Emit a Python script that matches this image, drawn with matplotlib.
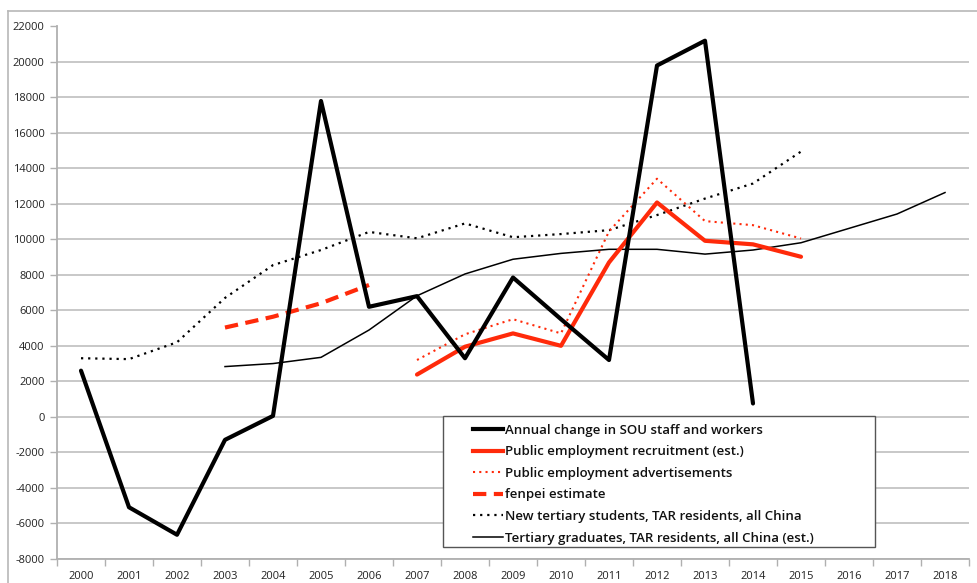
import matplotlib
matplotlib.use("Agg")
import matplotlib.pyplot as plt
from matplotlib.lines import Line2D
from matplotlib.patches import Rectangle
import numpy as np

years = [str(y) for y in range(2000, 2019)]

sou_change = [2600, -5100, -6650, -1300, 50, 17800, 6200, 6800, 3300, 7850,
              5500, 3200, 19800, 21200, 750, None, None, None, None]
recruitment = [None]*7 + [2380, 3950, 4700, 4000, 8700, 12080, 9920, 9720, 9020, None, None, None]
advertisements = [None]*7 + [3200, 4650, 5500, 4700, 10450, 13420, 11030, 10800, 10050, None, None, None]
fenpei = [None]*3 + [5030, 5640, 6400, 7430] + [None]*12
new_students = [3300, 3250, 4200, 6700, 8550, 9400, 10420, 10060, 10900, 10120,
                10300, 10520, 11370, 12300, 13150, 14950, None, None, None]
graduates = [None]*3 + [2830, 3000, 3350, 4890, 6820, 8050, 8880, 9210, 9440,
                        9440, 9170, 9400, 9810, 10620, 11430, 12640]

labels = ["Annual change in SOU staff and workers",
          "Public employment recruitment (est.)",
          "Public employment advertisements",
          "fenpei estimate",
          "New tertiary students, TAR residents, all China",
          "Tertiary graduates, TAR residents, all China (est.)"]

yticks = list(range(-8000, 22001, 2000))

RED = "#ff2a0a"

def arr(v):
    return np.array([np.nan if x is None else x for x in v], dtype=float)

plt.rcParams['font.family'] = ['Open Sans', 'DejaVu Sans']

fig = plt.figure(figsize=(9.77, 5.83), dpi=100)
ax = fig.add_axes([57/977, 1-558.7/583, (969-57)/977, (558.7-26.5)/583])

x = np.arange(len(years))
ax.plot(x, arr(graduates), color="black", lw=1.1, solid_joinstyle="round")
ax.plot(x, arr(new_students), color="black", lw=1.6, linestyle=(0, (1, 2.2)))
ax.plot(x, arr(fenpei), color=RED, lw=3.0, linestyle=(0, (3.2, 1.8)))
ax.plot(x, arr(advertisements), color=RED, lw=1.5, linestyle=(0, (1, 2.0)))
ax.plot(x, arr(recruitment), color=RED, lw=3.0, solid_capstyle="round")
ax.plot(x, arr(sou_change), color="black", lw=3.0, solid_capstyle="round")

ax.set_xlim(-0.5, len(years)-0.5)
ax.set_ylim(-8000, 22000)
ax.set_yticks(yticks)
ax.set_yticklabels([str(v) for v in yticks])
ax.set_xticks(x)
ax.set_xticklabels(years)
ax.set_xticks(np.arange(-0.5, len(years), 1), minor=True)
ax.tick_params(axis='x', which='major', length=0, pad=9, labelsize=8, labelcolor="#222222")
ax.tick_params(axis='x', which='minor', length=5, color="#b0b0b0", width=1)
ax.tick_params(axis='y', length=5, color="#b0b0b0", width=1, labelsize=8,
               labelcolor="#222222", pad=4)
ax.yaxis.grid(True, color="#c4c4c4", lw=1.3)
ax.set_axisbelow(True)
for s in ["top", "right"]:
    ax.spines[s].set_visible(False)
for s in ["left", "bottom"]:
    ax.spines[s].set_color("#b0b0b0")
    ax.spines[s].set_linewidth(1.3)

# figure border (Excel chart area)
fig.add_artist(Line2D([8/977, 8/977], [0, 1-10.5/583], transform=fig.transFigure,
                      color="#b8b8b8", lw=1.2))
fig.add_artist(Line2D([8/977, 1], [1-10.5/583, 1-10.5/583], transform=fig.transFigure,
                      color="#b8b8b8", lw=1.2))

handles = [
    Line2D([], [], color="black", lw=3.0),
    Line2D([], [], color=RED, lw=3.0),
    Line2D([], [], color=RED, lw=1.5, linestyle=(0, (1, 2.0))),
    Line2D([], [], color=RED, lw=3.0, linestyle=(0, (3.2, 1.8))),
    Line2D([], [], color="black", lw=1.6, linestyle=(0, (1, 2.2))),
    Line2D([], [], color="black", lw=1.1),
]
fig.add_artist(Rectangle((443/977, 1-547/583), (875-443)/977, (547-416)/583,
                         transform=fig.transFigure, facecolor="white",
                         edgecolor="#555555", lw=1.0, zorder=5))
leg = fig.legend(handles, labels, loc="upper left",
                 bbox_to_anchor=(470/977, 1-421/583), frameon=False,
                 fontsize=9.5, handlelength=2.3, handletextpad=0.15,
                 labelspacing=0.65, borderaxespad=0, borderpad=0.2)
leg.set_zorder(6)
for t in leg.get_texts():
    t.set_fontweight("semibold")
    t.set_color("#111111")

fig.savefig("out.png", dpi=100)
